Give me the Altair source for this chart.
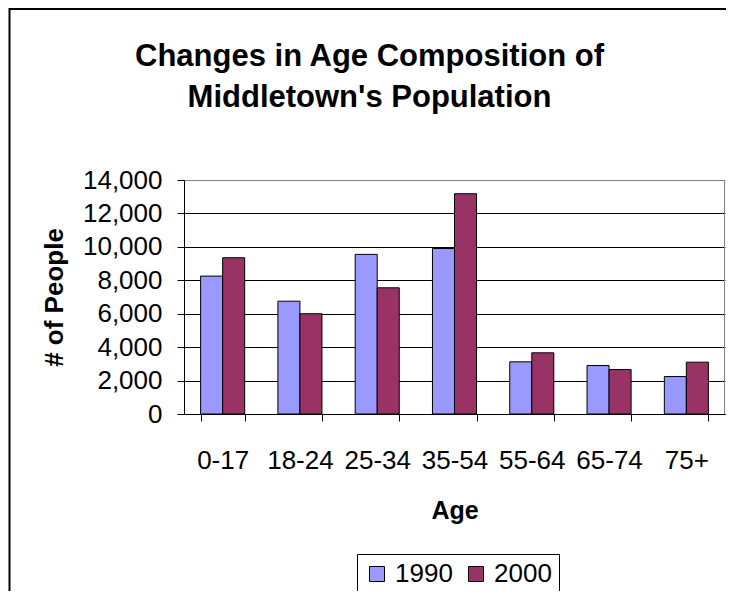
import altair as alt
import pandas as pd

ages = ["0-17", "18-24", "25-34", "35-54", "55-64", "65-74", "75+"]
years = ["1990", "2000"]
pop_1990 = [8250, 6750, 9550, 9900, 3120, 2900, 2240]
pop_2000 = [9350, 6000, 7550, 13180, 3660, 2660, 3100]
bar_colors = ["#9999FF", "#993366"]
y_ticks = [0, 2000, 4000, 6000, 8000, 10000, 12000, 14000]

rows = []
for a, v1, v2 in zip(ages, pop_1990, pop_2000):
    rows.append({"Age": a, "Year": years[0], "People": v1})
    rows.append({"Age": a, "Year": years[1], "People": v2})
df = pd.DataFrame(rows)

FONT = "Liberation Sans"
W, H = 541, 234

bars = alt.Chart(df).mark_bar(stroke="black", strokeWidth=1).encode(
    x=alt.X(
        "Age:N",
        sort=ages,
        scale=alt.Scale(paddingInner=0.43, paddingOuter=0.215),
        axis=alt.Axis(
            title="Age",
            labelAngle=0,
            labelFont=FONT,
            labelFontSize=26,
            labelColor="black",
            labelPadding=26,
            tickSize=7,
            tickColor="black",
            tickBand="extent",
            domainColor="black",
            titleFont=FONT,
            titleFontSize=25,
            titleFontWeight="bold",
            titleColor="black",
            titleX=W / 2,
            titleY=104,
            titleBaseline="alphabetic",
        ),
    ),
    xOffset=alt.XOffset("Year:N", sort=years),
    y=alt.Y(
        "People:Q",
        scale=alt.Scale(domain=[0, 14000], nice=False),
        axis=alt.Axis(
            title="# of People",
            values=y_ticks,
            format=",.0f",
            labelFont=FONT,
            labelFontSize=26,
            labelColor="black",
            labelPadding=15,
            tickSize=7,
            tickColor="black",
            domainColor="black",
            gridColor={"condition": {"test": "datum.value >= 14000", "value": "#808080"}, "value": "black"},
            titleFont=FONT,
            titleFontSize=26,
            titleFontWeight="bold",
            titleColor="black",
            titleX=-122,
            titleY=H / 2,
            titleBaseline="alphabetic",
        ),
    ),
    color=alt.Color(
        "Year:N",
        sort=years,
        scale=alt.Scale(domain=years, range=bar_colors),
        legend=alt.Legend(
            title=None,
            orient="none",
            legendX=173,
            legendY=374,
            direction="horizontal",
            labelFont=FONT,
            labelFontSize=26,
            labelColor="black",
            symbolType="square",
            symbolSize=225,
            symbolStrokeColor="black",
            symbolStrokeWidth=1,
            strokeColor="black",
            fillColor="white",
            padding=7,
            columnPadding=10,
            labelOffset=5,
        ),
    ),
)

frame_df = pd.DataFrame({"k": [0]})
outer_frame = alt.Chart(frame_df).mark_rect(
    fillOpacity=0, stroke="black", strokeWidth=2
).encode(
    x=alt.value(-174.5), x2=alt.value(W + 60), y=alt.value(-171), y2=alt.value(H + 260)
)
plot_right = alt.Chart(frame_df).mark_rule(color="#808080", strokeWidth=1).encode(
    x=alt.value(W - 0.5), x2=alt.value(W - 0.5), y=alt.value(0), y2=alt.value(H)
)

chart = alt.layer(bars, plot_right, outer_frame).properties(
    width=W,
    height=H,
    title=alt.Title(
        text=["Changes in Age Composition of", "Middletown's Population"],
        font=FONT,
        fontSize=31,
        fontWeight="bold",
        color="black",
        anchor="middle",
        dx=-85,
        dy=106,
        offset=0,
        lineHeight=41,
    ),
    autosize=alt.AutoSizeParams(type="none"),
    padding={"left": 176, "top": 172, "right": 1, "bottom": 177},
).configure_view(stroke=None)

chart.save("out.html", embed_options={"renderer": "svg", "actions": False})
